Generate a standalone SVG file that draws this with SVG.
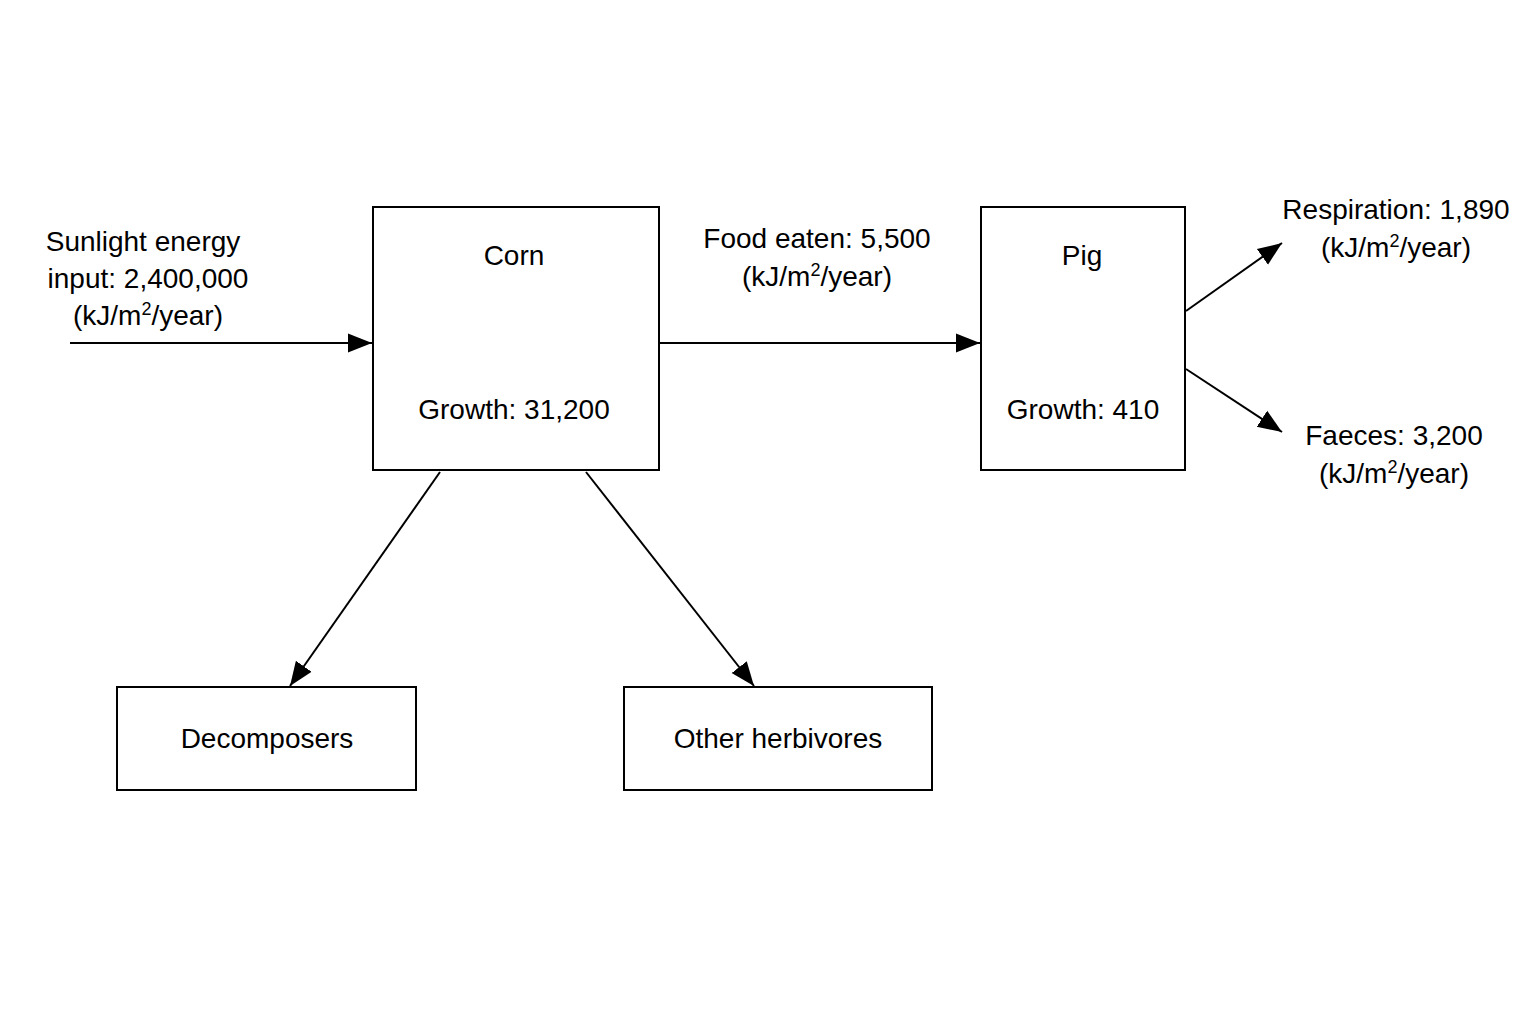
<svg xmlns="http://www.w3.org/2000/svg" width="1536" height="1024" viewBox="0 0 1536 1024">
<style>
.box{fill:#fff;stroke:#000;stroke-width:2}
text{font-family:"Liberation Sans",Arial,sans-serif;font-size:28px;fill:#000;text-anchor:middle}
.ln{stroke:#000;stroke-width:2;fill:none;marker-end:url(#a)}
</style>
<defs><marker id="a" viewBox="0 0 10 10" refX="10" refY="5" markerWidth="12" markerHeight="12" markerUnits="userSpaceOnUse" orient="auto"><path d="M0,0L10,5L0,10z"/></marker>
<marker id="b" viewBox="0 0 10 10" refX="10" refY="5" markerWidth="24" markerHeight="24" markerUnits="userSpaceOnUse" orient="auto"><path d="M0,1L10,5L0,9z"/></marker></defs>
<rect width="1536" height="1024" fill="#fff"/>
<g id="corn"><rect class="box" x="373" y="207" width="286" height="263"/><text x="514" y="265">Corn</text><text x="514" y="419">Growth: 31,200</text></g>
<g id="pig"><rect class="box" x="981" y="207" width="204" height="263"/><text x="1082" y="265">Pig</text><text x="1083" y="419">Growth: 410</text></g>
<g id="decomposers"><rect class="box" x="117" y="687" width="299" height="103"/><text x="267" y="748">Decomposers</text></g>
<g id="herbivores"><rect class="box" x="624" y="687" width="308" height="103"/><text x="778" y="748">Other herbivores</text></g>
<g id="labels">
<text x="143" y="251">Sunlight energy</text><text x="148" y="288">input: 2,400,000</text><text x="148" y="325">(kJ/m<tspan dy="-10" font-size="18">2</tspan><tspan dy="10">/year)</tspan></text>
<text x="817" y="248">Food eaten: 5,500</text><text x="817" y="286">(kJ/m<tspan dy="-10" font-size="18">2</tspan><tspan dy="10">/year)</tspan></text>
<text x="1396" y="219">Respiration: 1,890</text><text x="1396" y="257">(kJ/m<tspan dy="-10" font-size="18">2</tspan><tspan dy="10">/year)</tspan></text>
<text x="1394" y="445">Faeces: 3,200</text><text x="1394" y="483">(kJ/m<tspan dy="-10" font-size="18">2</tspan><tspan dy="10">/year)</tspan></text>
</g>
<g id="connectors" stroke="#000" stroke-width="2" fill="none">
<line x1="70" y1="343" x2="372" y2="343" marker-end="url(#b)"/>
<line x1="660" y1="343" x2="980" y2="343" marker-end="url(#b)"/>
<line x1="1186" y1="311" x2="1282" y2="243" marker-end="url(#b)"/>
<line x1="1186" y1="369" x2="1282" y2="432" marker-end="url(#b)"/>
<line x1="440" y1="472" x2="290" y2="686" marker-end="url(#b)"/>
<line x1="586" y1="472" x2="754" y2="686" marker-end="url(#b)"/>
</g>
</svg>
